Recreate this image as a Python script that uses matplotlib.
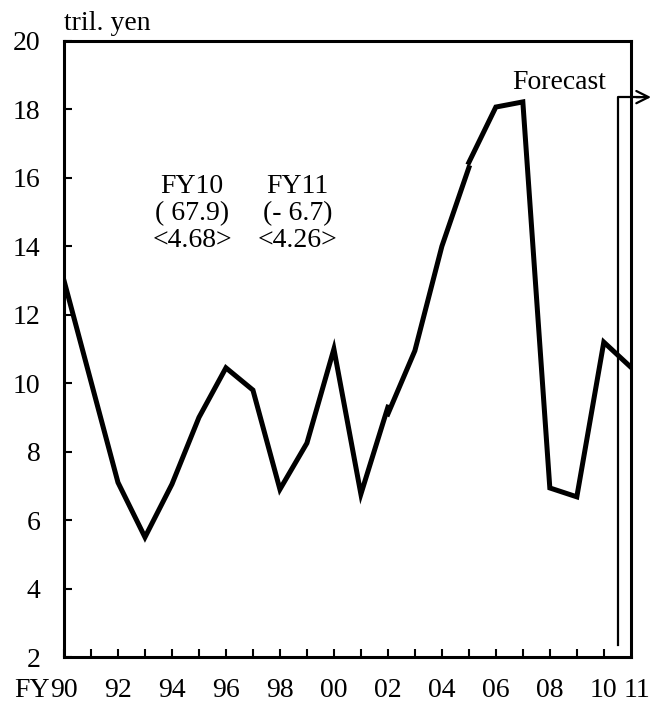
import numpy as np
import matplotlib
matplotlib.use("Agg")
import matplotlib.pyplot as plt

plt.rcParams['font.family'] = ['Liberation Serif', 'DejaVu Serif']
plt.rcParams['font.size'] = 20

# fiscal years FY90 .. FY11 (index 0..21)
years = np.arange(0, 22)
year_labels = ['90', '', '92', '', '94', '', '96', '', '98', '', '00', '',
               '02', '', '04', '', '06', '', '08', '', '10', '11']

# series 1: FY90 - FY02
x1 = np.arange(0, 13)
v1 = [13.0, 10.05, 7.1, 5.5, 7.05, 9.0, 10.45, 9.8, 6.9, 8.25, 11.0, 6.76, 9.3]
# series 2: FY02 - FY05 (revised basis)
x2 = np.arange(12, 16)
v2 = [9.1, 10.95, 14.0, 16.3]
# series 3: FY05 - FY11 (FY10, FY11 forecast)
x3 = np.arange(15, 22)
v3 = [16.45, 18.07, 18.22, 6.94, 6.68, 11.2, 10.47]

fig = plt.figure(figsize=(6.53, 7.02), dpi=100)
ax = fig.add_axes([0.098, 0.0641, 0.868, 0.8775])

for xs, vs in [(x1, v1), (x2, v2), (x3, v3)]:
    ax.plot(xs, vs, color='black', lw=3.6, solid_joinstyle='miter')

ax.set_xlim(0, 21)
ax.set_ylim(2, 20)
ax.set_yticks(np.arange(2, 21, 2))
ax.set_xticks(years[:-1])
ax.set_xticklabels(year_labels[:-1])
for s in ax.spines.values():
    s.set_linewidth(2.2)

ax.tick_params(axis='x', direction='in', length=6, width=1.5, pad=15, top=False)
ax.tick_params(axis='y', direction='in', length=6, width=1.5, pad=17, right=False)
# label for FY11 at the right edge
ax.annotate(year_labels[-1], xy=(years[-1], 0), xycoords=('data', 'axes fraction'),
            xytext=(4.5, -15), textcoords='offset points', ha='center', va='top')
ax.annotate('FY', xy=(0, 0), xycoords=('data', 'axes fraction'),
            xytext=(-10, -15), textcoords='offset points', ha='right', va='top')

ax.text(0, 1.008, 'tril. yen', transform=ax.transAxes, ha='left', va='bottom')

# growth notes
ax.text(4.75, 14.95, 'FY10\n( 67.9)\n<4.68>', ha='center', va='center', linespacing=1.1)
ax.text(8.65, 14.95, 'FY11\n(- 6.7)\n<4.26>', ha='center', va='center', linespacing=1.1)

# forecast bracket
ax.plot([20.52, 20.52, 21.3], [2.35, 18.36, 18.36], color='black', lw=1.6, clip_on=False)
ax.annotate('', xy=(21.75, 18.36), xytext=(21.2, 18.36),
            arrowprops=dict(arrowstyle='->', lw=1.6, color='black',
                            mutation_scale=22, shrinkA=0, shrinkB=0),
            annotation_clip=False)
ax.text(18.35, 18.8, 'Forecast', ha='center', va='center')

fig.savefig('out.png', dpi=100)
